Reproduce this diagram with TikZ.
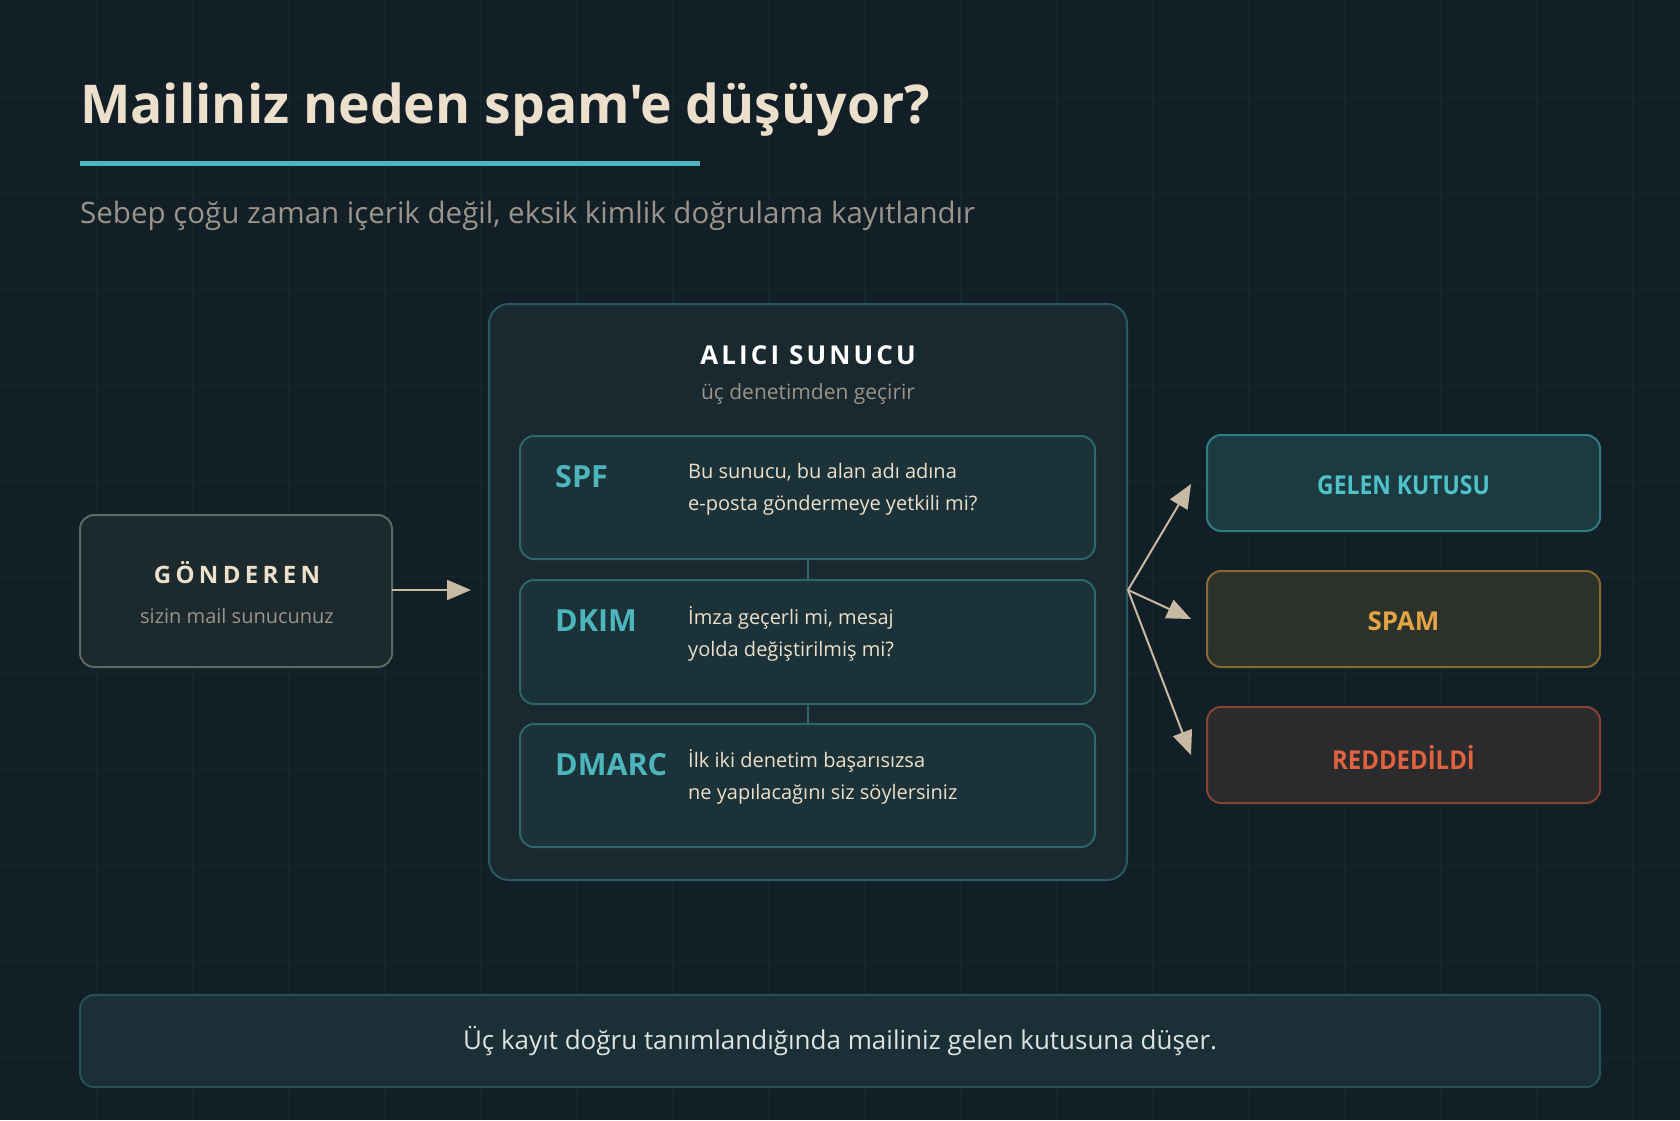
\documentclass[tikz,border=0pt]{standalone}
\usepackage{fontspec}
\setmainfont{Open Sans}
\newfontfamily\titlefont{Open Sans}[Ligatures=TeXOff]
\usetikzlibrary{arrows.meta}
\definecolor{bg}{HTML}{131F27}
\definecolor{gridc}{HTML}{17252D}
\definecolor{cream}{HTML}{ECE0CC}
\definecolor{teal}{HTML}{4DB6BC}
\definecolor{subgray}{HTML}{9A948A}
\definecolor{outerfill}{HTML}{1A292F}
\definecolor{outerdraw}{HTML}{2A5A60}
\definecolor{chkfill}{HTML}{1B3238}
\definecolor{chkdraw}{HTML}{2D666B}
\definecolor{sendfill}{HTML}{1C292D}
\definecolor{senddraw}{HTML}{5C6863}
\definecolor{arrowc}{HTML}{C8B9A3}
\definecolor{inboxfill}{HTML}{1B3B40}
\definecolor{inboxdraw}{HTML}{2F7C82}
\definecolor{inboxtext}{HTML}{4FC1C8}
\definecolor{spamfill}{HTML}{2C3229}
\definecolor{spamdraw}{HTML}{866A32}
\definecolor{spamtext}{HTML}{E2A445}
\definecolor{rejfill}{HTML}{2B2A2D}
\definecolor{rejdraw}{HTML}{874233}
\definecolor{rejtext}{HTML}{E0633F}
\definecolor{notefill}{HTML}{1A3036}
\definecolor{notedraw}{HTML}{245258}
\definecolor{notetext}{HTML}{DCE3E0}
\tikzset{
  rbox/.style={rounded corners=14pt, line width=2pt},
  chk/.style={rbox, fill=chkfill, draw=chkdraw},
  resultbox/.style={rbox, minimum width=393pt, minimum height=96pt},
  resulttext/.style={inner sep=0, font=\bfseries\fontsize{26}{30}\selectfont},
  chklabel/.style={anchor=west, text=teal, font=\bfseries\fontsize{30.5}{32}\selectfont},
  chkdesc/.style={anchor=north west, text=cream, align=left, font=\fontsize{20}{32}\selectfont},
  conn/.style={draw=arrowc, line width=2pt, -{Triangle[length=24pt,width=20pt]}},
  vline/.style={draw=chkdraw, line width=2pt}
}
\begin{document}
\begin{tikzpicture}[x=1pt,y=-1pt]
\useasboundingbox (0,0) rectangle (1680,1120);
\fill[bg] (0,0) rectangle (1680,1120);
\foreach \i in {1,...,17} {\draw[gridc, line width=1pt] (\i*96,0) -- (\i*96,1120);}
\foreach \j in {1,...,11} {\draw[gridc, line width=1pt] (0,\j*96) -- (1680,\j*96);}

% title
\node[anchor=base west, inner sep=0, text=cream, font=\titlefont\bfseries\fontsize{53.5}{60}\selectfont] (title) at (80,123) {Mailiniz neden spam'e düşüyor?};
\fill[teal] (80,160.5) rectangle (700,165.5);
\node[anchor=base west, inner sep=0, text=subgray, font=\fontsize{29.5}{32}\selectfont] (subtitle) at (80,223) {Sebep çoğu zaman içerik değil, eksik kimlik doğrulama kayıtlandır};

% sender
\path[rbox, fill=sendfill, draw=senddraw] (80,515) rectangle (392,667);
\node[text=cream, font=\bfseries\fontsize{24}{28}\selectfont\addfontfeatures{LetterSpace=18}] (sendt) at (237,573) {GÖNDEREN};
\node[text=subgray, font=\fontsize{20}{24}\selectfont] (sends) at (237,616) {sizin mail sunucunuz};
\coordinate (sendR) at (392,590);

% receiver outer
\path[rbox, rounded corners=20pt, fill=outerfill, draw=outerdraw] (489,304) rectangle (1127,880);
\coordinate (recvL) at (471,590);
\coordinate (recvR) at (1128,590);
\node[text=white, font=\bfseries\fontsize{26}{28}\selectfont\addfontfeatures{LetterSpace=12}] (recvt) at (808,355) {ALICI SUNUCU};
\node[text=subgray, font=\fontsize{21}{24}\selectfont] (recvs) at (808,394) {üç denetimden geçirir};

% checks
\path[chk] (520,436) rectangle (1095,559);
\path[chk] (520,580) rectangle (1095,704);
\path[chk] (520,724) rectangle (1095,847);
\coordinate (spfB) at (808,559);
\coordinate (dkimT) at (808,580);
\coordinate (dkimB) at (808,704);
\coordinate (dmarcT) at (808,724);
\draw[vline] (spfB) -- (dkimT);
\draw[vline] (dkimB) -- (dmarcT);

\node[chklabel, inner sep=0] (spf) at (555,477) {SPF};
\node[chkdesc, inner sep=0] (spfd) at (688,463) {Bu sunucu, bu alan adı adına\\e-posta göndermeye yetkili mi?};
\node[chklabel, inner sep=0] (dkim) at (555,621) {DKIM};
\node[chkdesc, inner sep=0] (dkimd) at (688,606) {İmza geçerli mi, mesaj\\yolda değiştirilmiş mi?};
\node[chklabel, inner sep=0] (dmarc) at (555,765) {DMARC};
\node[chkdesc, inner sep=0] (dmarcd) at (688,749) {İlk iki denetim başarısızsa\\ne yapılacağını siz söylersiniz};

% results
\node[resultbox, fill=inboxfill, draw=inboxdraw] (inbox) at (1403.5,483) {};
\node[resultbox, fill=spamfill, draw=spamdraw] (spam) at (1403.5,619) {};
\node[resultbox, fill=rejfill, draw=rejdraw] (rej) at (1403.5,755) {};
\node[resulttext, text=inboxtext, font=\bfseries\fontsize{26}{30}\selectfont\addfontfeatures{FakeStretch=0.88}] (inboxt) at (1403.5,485) {GELEN KUTUSU};
\node[resulttext, text=spamtext] (spamt) at (1403.5,621) {SPAM};
\node[resulttext, text=rejtext, font=\bfseries\fontsize{26}{30}\selectfont\addfontfeatures{FakeStretch=0.92}] (rejt) at (1403.5,757) {REDDEDİLDİ};

\coordinate (a1) at (1191,484);
\coordinate (a2) at (1191,619);
\coordinate (a3) at (1191,755);

\draw[conn] (sendR) -- (recvL);
\draw[conn] (recvR) -- (a1);
\draw[conn] (recvR) -- (a2);
\draw[conn] (recvR) -- (a3);

% note
\node[rbox, fill=notefill, draw=notedraw, text=notetext, minimum width=1520pt, minimum height=92pt, font=\fontsize{26}{28}\selectfont] (note) at (840,1041) {Üç kayıt doğru tanımlandığında mailiniz gelen kutusuna düşer.};
\end{tikzpicture}
\end{document}
